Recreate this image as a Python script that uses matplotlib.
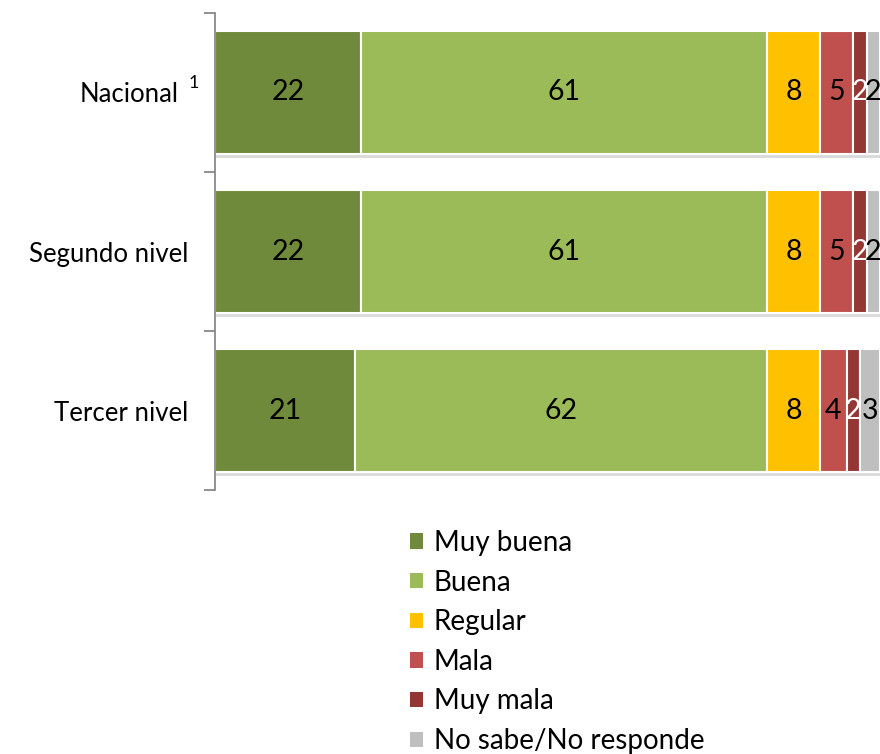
import matplotlib
matplotlib.use("Agg")
import matplotlib.pyplot as plt
import matplotlib.transforms as mtransforms
import matplotlib.patheffects as pe
import numpy as np

plt.rcParams['font.family'] = ['Lato', 'DejaVu Sans']

categories = ["Nacional", "Segundo nivel", "Tercer nivel"]
series_names = ["Muy buena", "Buena", "Regular", "Mala", "Muy mala", "No sabe/No responde"]
values = {
    "Muy buena": [22, 22, 21],
    "Buena": [61, 61, 62],
    "Regular": [8, 8, 8],
    "Mala": [5, 5, 4],
    "Muy mala": [2, 2, 2],
    "No sabe/No responde": [2, 2, 3],
}
colors = ["#6E8A3A", "#9BBB59", "#FFC000", "#C0504D", "#943634", "#BFBFBF"]
text_colors = ["black", "black", "black", "black", "white", "black"]

fig = plt.figure(figsize=(8.8, 7.54), dpi=100)
ax = fig.add_axes([0.2443, 0.350, 0.7557, 0.6328])

y = np.arange(len(categories))
left = np.zeros(len(categories))
handles = []
for name, col, tcol in zip(series_names, colors, text_colors):
    vals = np.array(values[name], dtype=float)
    bars = ax.barh(y, vals, left=left, height=0.77, color=col, edgecolor="white",
                   linewidth=1.5, label=name)
    for b in bars:
        b.set_path_effects([pe.SimplePatchShadow(offset=(0.5, -3), shadow_rgbFace="#9a9a9a", alpha=0.35),
                            pe.Normal()])
    for yi, l, v in zip(y, left, vals):
        ax.text(l + v / 2, yi, f"{int(v)}", ha="center", va="center",
                color=tcol, fontsize=20.5)
    handles.append(bars)
    left += vals

ax.set_xlim(0, 100)
ax.set_ylim(2.5, -0.5)
ax.set_xticks([])
ax.set_yticks(y)
ax.set_yticklabels(categories, fontsize=18.5)
ax.tick_params(axis="y", which="major", length=0, pad=19.5)
ax.set_yticks([-0.5, 0.5, 1.5, 2.5], minor=True)
ax.tick_params(axis="y", which="minor", length=8, width=1.2, color="#7f7f7f")
for s in ["top", "right", "bottom"]:
    ax.spines[s].set_visible(False)
ax.spines["left"].set_color("#7f7f7f")
ax.spines["left"].set_linewidth(1.2)

# shift "Nacional" label left to make room for its superscript
lab0 = ax.get_yticklabels()[0]
lab0.set_transform(lab0.get_transform() + mtransforms.ScaledTranslation(-9 / 100, 0, fig.dpi_scale_trans))
ax.annotate("1", xy=(0, 0), xycoords=("axes fraction", "data"),
            xytext=(-21, 9), textcoords="offset pixels", ha="center", va="center", fontsize=13)

leg = fig.legend(handles=handles, labels=series_names, loc="upper left",
                 bbox_to_anchor=(410 / 880, 1 - 530 / 754), frameon=False,
                 fontsize=20, handlelength=0.47, handleheight=0.47, handletextpad=0.38,
                 labelspacing=0.49, borderpad=0, borderaxespad=0)
for h in leg.legend_handles:
    h.set_path_effects([])
    h.set_edgecolor("none")

fig.savefig("out.png", dpi=100)
